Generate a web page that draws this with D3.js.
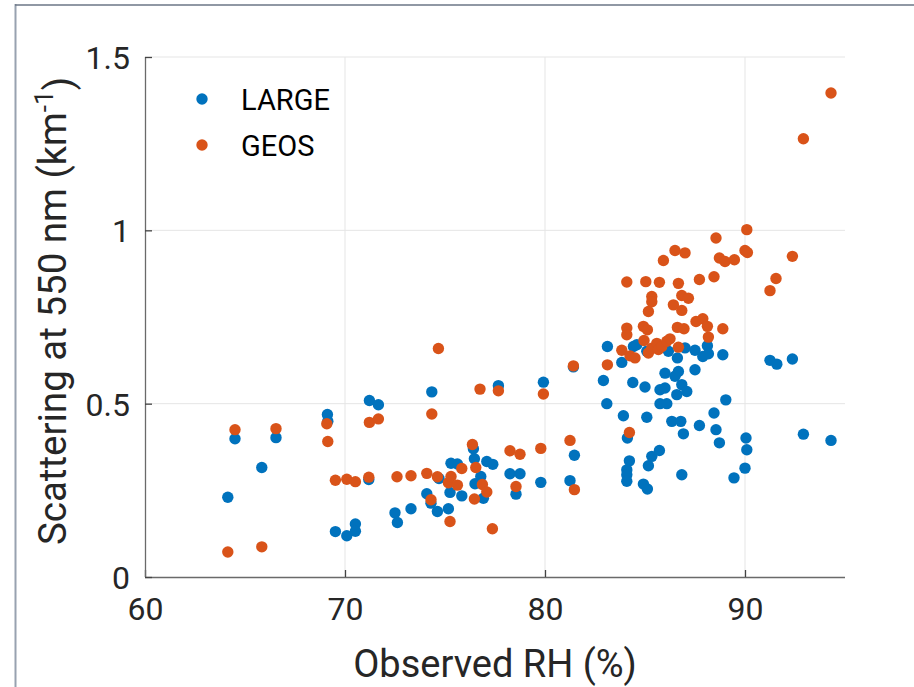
<!DOCTYPE html>
<html>
<head>
<meta charset="utf-8">
<script src="https://cdn.jsdelivr.net/npm/d3@7"></script>
<style>
  body { margin: 0; background: #fff; }
  svg { font-family: Roboto, "Noto Sans", sans-serif; display: block; }
</style>
</head>
<body>
<div id="chart"></div>
<script>
"use strict";

// LARGE observations (RH %, scattering km^-1)
const largeRH = [64.14, 64.5, 65.84, 66.55, 69.12, 69.14, 69.52, 70.09, 70.52, 70.52, 71.19, 71.22, 71.67,
    72.5, 72.62, 73.3, 74.09, 74.3, 74.34, 74.62, 74.7, 75.17, 75.25, 75.3, 75.62, 75.84, 76.42, 76.47,
    76.5, 76.79, 76.92, 77.09, 77.39, 77.67, 78.25, 78.75, 78.55, 79.79, 79.92, 81.25, 81.42, 81.47,
    82.92, 83.09, 83.12, 83.84, 83.92, 84.12, 84.22, 84.09, 84.09, 84.09, 84.39, 84.42, 84.59, 84.92,
    85.12, 85.0, 85.09, 85.09, 85.17, 85.34, 85.72, 85.75, 86.0, 85.75, 86.09, 86.0, 86.17, 86.34, 86.5,
    86.59, 86.62, 86.67, 86.79, 86.84, 86.84, 86.92, 87.0, 87.09, 87.5, 87.5, 87.72, 87.89, 88.12, 88.17,
    88.45, 88.55, 88.72, 88.89, 89.04, 89.45, 90.0, 90.05, 90.09, 91.25, 91.59, 92.37, 92.92, 94.3];
const largeScat = [0.230, 0.399, 0.316, 0.402, 0.469, 0.449, 0.131, 0.119, 0.153, 0.132, 0.281, 0.509, 0.497,
    0.185, 0.157, 0.197, 0.240, 0.213, 0.534, 0.189, 0.284, 0.197, 0.244, 0.328, 0.326, 0.234, 0.370, 0.341,
    0.269, 0.290, 0.227, 0.333, 0.325, 0.552, 0.298, 0.298, 0.239, 0.273, 0.562, 0.278, 0.606, 0.351,
    0.567, 0.500, 0.665, 0.619, 0.465, 0.401, 0.335, 0.309, 0.295, 0.276, 0.561, 0.665, 0.670, 0.268,
    0.254, 0.548, 0.651, 0.461, 0.321, 0.348, 0.365, 0.540, 0.545, 0.500, 0.500, 0.588, 0.651, 0.449, 0.579,
    0.526, 0.632, 0.593, 0.449, 0.555, 0.295, 0.413, 0.661, 0.535, 0.654, 0.598, 0.437, 0.636, 0.667, 0.644,
    0.473, 0.425, 0.387, 0.641, 0.511, 0.286, 0.314, 0.401, 0.367, 0.625, 0.614, 0.629, 0.412, 0.394];

// GEOS model values
const geosRH = [64.14, 64.5, 65.84, 66.55, 69.09, 69.14, 69.52, 70.09, 70.52, 71.19, 71.22, 71.67,
    72.6, 73.3, 74.09, 74.3, 74.34, 74.62, 74.67, 75.17, 75.3, 75.25, 75.62, 75.84, 76.37, 76.47, 76.54,
    76.75, 76.87, 77.09, 77.37, 77.67, 78.25, 78.55, 78.75, 79.79, 79.92, 81.25, 81.42, 81.47,
    83.12, 83.84, 84.09, 84.09, 84.09, 84.22, 84.25, 84.5, 84.92, 85.12, 84.95, 85.04, 85.17, 85.17,
    85.34, 85.34, 85.34, 85.59, 85.67, 85.72, 85.84, 85.92, 86.09, 86.25, 86.42, 86.5, 86.62, 86.67, 86.67,
    86.84, 86.84, 86.95, 87.0, 87.17, 87.55, 87.72, 87.89, 88.12, 88.17, 88.45, 88.55, 88.72, 88.89,
    89.0, 89.47, 90.0, 90.12, 90.09, 91.25, 91.55, 92.37, 92.92, 94.3];
const geosScat = [0.072, 0.425, 0.087, 0.428, 0.442, 0.391, 0.279, 0.282, 0.275, 0.288, 0.446, 0.456,
    0.289, 0.292, 0.299, 0.223, 0.470, 0.289, 0.659, 0.272, 0.290, 0.160, 0.265, 0.313, 0.382, 0.225, 0.316,
    0.542, 0.267, 0.245, 0.139, 0.537, 0.364, 0.261, 0.354, 0.371, 0.528, 0.394, 0.609, 0.252,
    0.612, 0.654, 0.851, 0.718, 0.699, 0.417, 0.638, 0.632, 0.723, 0.713, 0.682, 0.852, 0.766, 0.646,
    0.809, 0.794, 0.660, 0.674, 0.656, 0.850, 0.665, 0.913, 0.680, 0.687, 0.785, 0.942, 0.720, 0.847, 0.663,
    0.812, 0.769, 0.716, 0.935, 0.804, 0.737, 0.858, 0.745, 0.723, 0.692, 0.866, 0.978, 0.920, 0.716,
    0.910, 0.915, 0.942, 0.936, 1.002, 0.826, 0.861, 0.925, 1.264, 1.396];

const xTicks = [60, 70, 80, 90];
const yTicks = [0, 0.5, 1, 1.5];
const seriesNames = ["LARGE", "GEOS"];
const seriesColors = ["#0072BD", "#D95319"];

const width = 914,
    height = 687;

const pLeft = 145, pRight = 845, pTop = 57, pBottom = 577;

const svg = d3.select("#chart")
    .append("svg")
    .attr("width", width)
    .attr("height", height);

// figure frame (only top/left edges visible in the crop)
svg.append("line")
    .attr("x1", 15.5).attr("x2", 15.5).attr("y1", 4).attr("y2", height)
    .attr("stroke", "#98a2b0").attr("stroke-width", 2);
svg.append("line")
    .attr("x1", 15).attr("x2", width).attr("y1", 5).attr("y2", 5)
    .attr("stroke", "#6b7686").attr("stroke-width", 1.5);

const x = d3.scaleLinear().domain([60, 95]).range([pLeft, pRight]);
const y = d3.scaleLinear().domain([0, 1.5]).range([pBottom, pTop]);

// grid
const grid = svg.append("g").attr("stroke", "#e5e5e5").attr("stroke-width", 1);
grid.selectAll(".gx")
    .data(xTicks.slice(1))
    .enter()
    .append("line")
    .attr("x1", d => x(d)).attr("x2", d => x(d))
    .attr("y1", pTop).attr("y2", pBottom);
grid.selectAll(".gy")
    .data(yTicks.slice(1))
    .enter()
    .append("line")
    .attr("x1", pLeft).attr("x2", pRight)
    .attr("y1", d => y(d)).attr("y2", d => y(d));

// axes (ticks point inward, like matlab)
const xAxis = d3.axisBottom(x)
    .tickValues(xTicks)
    .tickSize(-7)
    .tickPadding(20)
    .tickFormat(d3.format("d"));
const yAxis = d3.axisLeft(y)
    .tickValues(yTicks)
    .tickSize(-7)
    .tickPadding(15)
    .tickFormat(d => String(d));

const gx = svg.append("g")
    .attr("transform", `translate(0,${pBottom})`)
    .call(xAxis);
const gy = svg.append("g")
    .attr("transform", `translate(${pLeft},0)`)
    .call(yAxis);

[gx, gy].forEach(g => {
    g.select(".domain").attr("stroke", "#6a6a6a").attr("stroke-width", 1.3);
    g.selectAll(".tick line").attr("stroke", "#444").attr("stroke-width", 1.3);
    g.selectAll(".tick text")
        .attr("fill", "#262626")
        .style("font-size", "32px")
        .style("font-family", "Roboto");
});
gx.select(".domain").attr("d", `M${pLeft},0.5H${pRight}`);
gy.select(".domain").attr("d", `M0.5,${pBottom}V${pTop}`);
gy.selectAll(".tick text").attr("dy", "0.36em");

// points
const large = largeRH.map((v, i) => ({ rh: v, s: largeScat[i] }));
const geos = geosRH.map((v, i) => ({ rh: v, s: geosScat[i] }));

[large, geos].forEach((pts, k) => {
    svg.append("g")
        .selectAll("circle")
        .data(pts)
        .enter()
        .append("circle")
        .attr("cx", d => x(d.rh))
        .attr("cy", d => y(d.s))
        .attr("r", 5.7)
        .attr("fill", seriesColors[k]);
});

// legend
const legend = svg.append("g");
seriesNames.forEach((name, i) => {
    const ly = 99 + i * 46;
    legend.append("circle")
        .attr("cx", 202).attr("cy", ly).attr("r", 5.7)
        .attr("fill", seriesColors[i]);
    legend.append("text")
        .attr("x", 241).attr("y", ly + 11)
        .attr("fill", "#000")
        .style("font-size", "29px")
        .text(name);
});

// axis labels
svg.append("text")
    .attr("x", (pLeft + pRight) / 2)
    .attr("y", 677)
    .attr("text-anchor", "middle")
    .attr("fill", "#262626")
    .style("font-size", "38px")
    .text("Observed RH (%)");

const yl = svg.append("text")
    .attr("transform", `translate(66,${(pTop + pBottom) / 2 - 6}) rotate(-90)`)
    .attr("text-anchor", "middle")
    .attr("fill", "#262626")
    .style("font-size", "38.5px");
yl.append("tspan").text("Scattering at 550 nm (km");
yl.append("tspan").attr("dy", "-0.5em").style("font-size", "26px").text("-1");
yl.append("tspan").attr("dy", "0.5em").text(")");
</script>
</body>
</html>
